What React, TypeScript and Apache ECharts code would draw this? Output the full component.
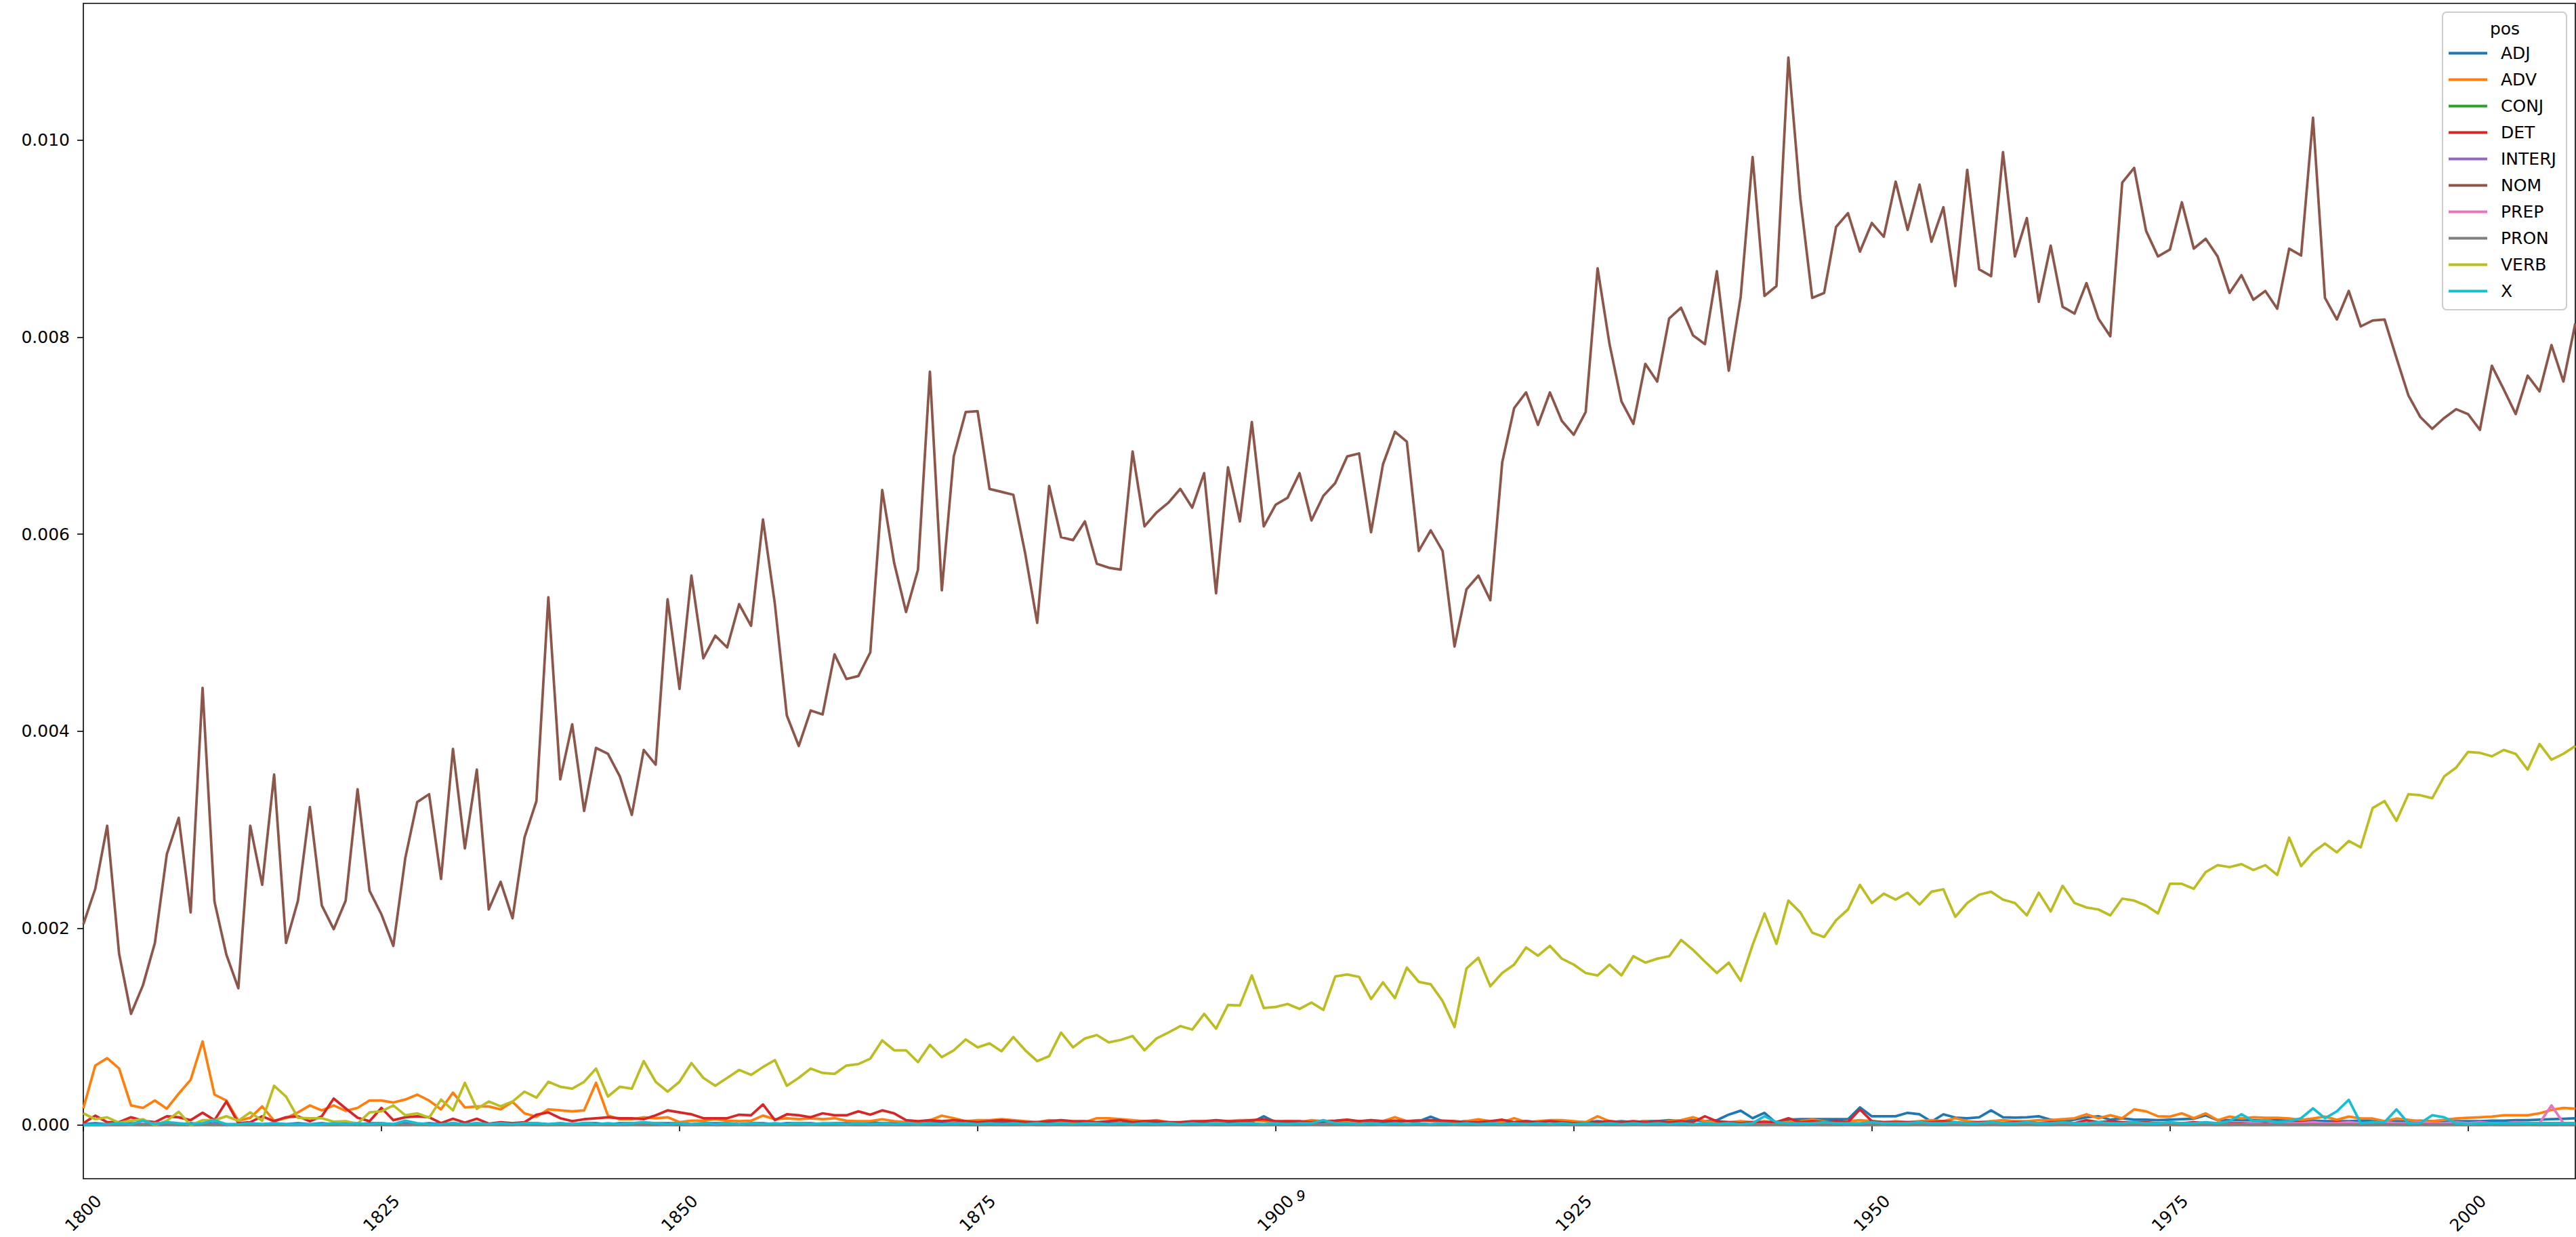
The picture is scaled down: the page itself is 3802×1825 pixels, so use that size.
import React, { useEffect, useRef } from "react";
import * as echarts from "echarts";

const FIRST_YEAR = 1800;
const N_YEARS = 210;
const YEARS = Array.from({ length: N_YEARS }, (_, i) => FIRST_YEAR + i);

const X_TICKS = [1800, 1825, 1850, 1875, 1900, 1925, 1950, 1975, 2000];
const Y_TICKS = [0, 0.002, 0.004, 0.006, 0.008, 0.01];

const POS_NAMES = ["ADJ", "ADV", "CONJ", "DET", "INTERJ", "NOM", "PREP", "PRON", "VERB", "X"];
const POS_COLORS = ["#1f77b4", "#ff7f0e", "#2ca02c", "#d62728", "#9467bd", "#8c564b", "#e377c2", "#7f7f7f", "#bcbd22", "#17becf"];

const NOM = [
  0.00204, 0.0024, 0.00304, 0.00174, 0.00113, 0.00142, 0.00185, 0.00275, 0.00312, 0.00216,
  0.00444, 0.00227, 0.00173, 0.00139, 0.00304, 0.00244, 0.00356, 0.00185, 0.00228, 0.00323,
  0.00223, 0.00199, 0.00228, 0.00341, 0.00238, 0.00214, 0.00182, 0.00271, 0.00328, 0.00336,
  0.0025, 0.00382, 0.00281, 0.00361, 0.00219, 0.00247, 0.0021, 0.00292, 0.00329, 0.00536,
  0.00351, 0.00407, 0.00319, 0.00383, 0.00377, 0.00354, 0.00315, 0.00381, 0.00366, 0.00534,
  0.00443, 0.00558, 0.00474, 0.00497, 0.00485, 0.00529, 0.00507, 0.00615, 0.00529, 0.00416,
  0.00385, 0.00421, 0.00417, 0.00478, 0.00453, 0.00456, 0.0048, 0.00645, 0.00571, 0.00521,
  0.00564, 0.00765, 0.00543, 0.00679, 0.00724, 0.00725, 0.00646, 0.00643, 0.0064, 0.0058,
  0.0051, 0.00649, 0.00597, 0.00594, 0.00613, 0.0057, 0.00566, 0.00564, 0.00684, 0.00608,
  0.00622, 0.00632, 0.00646, 0.00627, 0.00662, 0.0054, 0.00668, 0.00613, 0.00714, 0.00608,
  0.0063, 0.00637, 0.00662, 0.00614, 0.00639, 0.00652, 0.00679, 0.00682, 0.00602, 0.00671,
  0.00704, 0.00694, 0.00583, 0.00604, 0.00583, 0.00486, 0.00544, 0.00558, 0.00533, 0.00673,
  0.00728, 0.00744, 0.00711, 0.00744, 0.00715, 0.00701, 0.00724, 0.0087, 0.00793, 0.00735,
  0.00712, 0.00773, 0.00755, 0.00819, 0.0083, 0.00802, 0.00793, 0.00867, 0.00766, 0.00841,
  0.00983, 0.00842, 0.00852, 0.01084, 0.00941, 0.0084, 0.00845, 0.00912, 0.00926, 0.00887,
  0.00916, 0.00902, 0.00958, 0.00909, 0.00955, 0.00897, 0.00932, 0.00852, 0.0097, 0.00869,
  0.00862, 0.00988, 0.00882, 0.00921, 0.00836, 0.00893, 0.00831, 0.00824, 0.00855, 0.00819,
  0.00801, 0.00957, 0.00972, 0.00908, 0.00882, 0.00889, 0.00937, 0.0089, 0.009, 0.00882,
  0.00845, 0.00863, 0.00838, 0.00847, 0.00829, 0.0089, 0.00883, 0.01023, 0.0084, 0.00818,
  0.00847, 0.00811, 0.00817, 0.00818, 0.00779, 0.00741, 0.00719, 0.00707, 0.00718, 0.00727,
  0.00722, 0.00706, 0.00771, 0.00747, 0.00722, 0.00761, 0.00745, 0.00792, 0.00755, 0.00814,
];

const VERB = [
  0.00012, 0.00006, 0.00008, 0.000024, 0.000045, 0.00006, 0.0, 0.000045, 0.000136, 0.0,
  0.00005, 0.00005, 0.00009, 0.000045, 0.00013, 0.000045, 0.0004, 0.00029, 0.000075, 0.00007,
  0.00007, 0.000035, 0.00004, 0.000015, 0.00013, 0.00014, 0.0002, 0.0001, 0.00012, 0.000075,
  0.00026, 0.00015, 0.00043, 0.000165, 0.00024, 0.00019, 0.00024, 0.00034, 0.00028, 0.00044,
  0.00039, 0.00037, 0.00044, 0.000575, 0.00029, 0.00039, 0.00037, 0.00065, 0.00044, 0.00034,
  0.00044, 0.00063, 0.00048, 0.0004, 0.00048, 0.00056, 0.00051, 0.00059, 0.00066, 0.0004,
  0.00048, 0.000575, 0.00053, 0.00052, 0.000605, 0.00062, 0.000675, 0.00086, 0.00076, 0.00076,
  0.00064, 0.000815, 0.00069, 0.00076, 0.00087, 0.00079, 0.00083, 0.00075, 0.000895, 0.00076,
  0.00065, 0.0007, 0.00094, 0.00079, 0.00088, 0.000915, 0.00084, 0.000865, 0.000905, 0.00076,
  0.00088, 0.00094, 0.001006, 0.00097, 0.00113, 0.00098, 0.00122, 0.001215, 0.00152, 0.00119,
  0.0012, 0.00123, 0.00118, 0.001245, 0.00117, 0.00151, 0.00153, 0.001505, 0.00128, 0.00145,
  0.00129, 0.0016, 0.001455, 0.00143, 0.00126, 0.000996, 0.00159, 0.0017, 0.00141, 0.001545,
  0.00163, 0.001805, 0.00172, 0.00182, 0.00169, 0.00163, 0.001545, 0.00152, 0.00163, 0.00152,
  0.001715, 0.00165, 0.00169, 0.001715, 0.00188, 0.00178, 0.00166, 0.001545, 0.00165, 0.001465,
  0.00183, 0.00215, 0.00184, 0.00228, 0.00216, 0.001955, 0.00191, 0.00208, 0.00219, 0.00244,
  0.002255, 0.00235, 0.00229, 0.00236, 0.00224, 0.00237, 0.002395, 0.002115, 0.002255, 0.00234,
  0.00237, 0.00229, 0.002255, 0.00213, 0.00236, 0.00217, 0.00243, 0.002255, 0.00221, 0.00219,
  0.00213, 0.0023, 0.00228, 0.00223, 0.00215, 0.00245, 0.00245, 0.0024, 0.00257, 0.00264,
  0.00262, 0.00265, 0.00259, 0.00264, 0.00254, 0.00292, 0.00263, 0.00277, 0.00286, 0.00277,
  0.002885, 0.00282, 0.00322, 0.00329, 0.00309, 0.00336, 0.00335, 0.00332, 0.00354, 0.00363,
  0.00379, 0.00378, 0.003745, 0.00381, 0.00377, 0.00361, 0.00387, 0.00371, 0.00377, 0.00385,
];

const ADV = [
  0.00017, 0.000605, 0.00068, 0.000575, 0.0002, 0.000175, 0.00025, 0.000167, 0.00032, 0.00046,
  0.00085, 0.00031, 0.00025, 0.000045, 0.000075, 0.00019, 0.000045, 0.00007, 0.00013, 0.0002,
  0.00015, 0.0002, 0.000145, 0.000175, 0.00025, 0.00025, 0.00023, 0.00026, 0.00031, 0.00025,
  0.00016, 0.00033, 0.00018, 0.00019, 0.00019, 0.00016, 0.000236, 0.00012, 0.000084, 0.00016,
  0.00015, 0.00014, 0.00015, 0.00043, 0.000097, 0.00006, 0.00006, 0.00008, 0.00007, 0.00008,
  0.00003, 0.000045, 0.000045, 0.00006, 0.000045, 0.00004, 0.000045, 0.000097, 0.00006, 0.00007,
  0.00006, 0.00007, 0.00006, 0.00007, 0.000045, 0.00004, 0.00004, 0.00006, 0.00004, 0.00003,
  0.00003, 0.00005, 0.000096, 0.00007, 0.00004, 0.00005, 0.00005, 0.00006, 0.00005, 0.00004,
  0.00003, 0.00005, 0.00004, 0.00003, 0.00003, 0.00007, 0.00007, 0.00006, 0.00005, 0.00004,
  0.00005, 0.00003, 0.00002, 0.00003, 0.00004, 0.00003, 0.00004, 0.00005, 0.00005, 0.00004,
  0.00003, 0.00004, 0.00003, 0.00005, 0.00004, 0.00003, 0.00004, 0.00003, 0.00005, 0.00004,
  0.00008, 0.00004, 0.00005, 0.00004, 0.00003, 0.00003, 0.00004, 0.00006, 0.00004, 0.00003,
  0.00007, 0.00003, 0.00004, 0.00005, 0.00005, 0.00004, 0.00003, 0.00009, 0.00004, 0.00003,
  0.00003, 0.00004, 0.00003, 0.00004, 0.00005, 0.00008, 0.00004, 0.00003, 0.00003, 0.00004,
  0.00003, 0.00004, 0.00003, 0.00003, 0.00004, 0.000055, 0.00004, 0.00003, 0.00004, 0.00005,
  0.00004, 0.00003, 0.00004, 0.00003, 0.00004, 0.00005, 0.00004, 0.00007, 0.00004, 0.00003,
  0.00004, 0.00005, 0.00004, 0.00004, 0.00005, 0.00005, 0.00006, 0.00007, 0.00011, 0.00007,
  0.0001, 0.00007, 0.00016, 0.00014, 0.00009, 0.000087, 0.00012, 0.00007, 0.00012, 0.00005,
  0.000087, 0.000067, 0.00008, 0.000074, 0.000074, 0.000067, 0.000054, 0.000067, 0.000087, 0.000054,
  0.000087, 0.000067, 0.000067, 0.00004, 0.000067, 0.000054, 0.00004, 0.00004, 0.000054, 0.000067,
  0.000074, 0.00008, 0.000087, 0.0001, 0.0001, 0.0001, 0.00012, 0.000155, 0.000175, 0.000168,
];

const DET = [
  0.00002, 0.000096, 0.00003, 0.00003, 0.00008, 0.000045, 0.00003, 0.00009, 0.00008, 0.00005,
  0.000126, 0.00005, 0.00024, 0.00002, 0.00003, 0.00009, 0.00004, 0.00008, 0.00009, 0.00004,
  0.00009, 0.00027, 0.00017, 0.000075, 0.00004, 0.000175, 0.00005, 0.00008, 0.00009, 0.00008,
  0.00002, 0.000065, 0.000025, 0.000065, 0.000015, 0.00003, 0.00002, 0.00003, 0.000106, 0.00013,
  0.00007, 0.00004, 0.00006, 0.00007, 0.00008, 0.00007, 0.00007, 0.00006, 0.0001, 0.00015,
  0.00013, 0.00011, 0.00007, 0.00007, 0.00007, 0.000106, 0.0001, 0.00021, 0.00005, 0.00011,
  0.0001, 0.00008, 0.00012, 0.0001, 0.0001, 0.00014, 0.000106, 0.00015, 0.00012, 0.00005,
  0.00004, 0.00005, 0.00004, 0.00005, 0.00004, 0.00003, 0.00004, 0.00005, 0.00004, 0.00003,
  0.00003, 0.00004, 0.00005, 0.00004, 0.00004, 0.00003, 0.00004, 0.00005, 0.00003, 0.00004,
  0.00004, 0.00003, 0.00003, 0.00004, 0.00004, 0.00005, 0.00004, 0.00004, 0.00005, 0.00006,
  0.00004, 0.00004, 0.00004, 0.00003, 0.00004, 0.000045, 0.000055, 0.00004, 0.00005, 0.00004,
  0.000045, 0.00004, 0.000045, 0.00005, 0.000045, 0.00004, 0.00003, 0.00003, 0.00004, 0.000055,
  0.00003, 0.00004, 0.00003, 0.00004, 0.00003, 0.00002, 0.00002, 0.00003, 0.00004, 0.00003,
  0.00004, 0.00003, 0.00004, 0.00003, 0.00004, 0.00003, 0.00009, 0.00004, 0.00003, 0.00002,
  0.00003, 0.00003, 0.00003, 0.00007, 0.00003, 0.00004, 0.00003, 0.00004, 0.00003, 0.00016,
  0.00004, 0.00003, 0.00003, 0.00003, 0.00003, 0.00003, 0.00004, 0.00003, 0.00002, 0.00003,
  0.00003, 0.00002, 0.00003, 0.00003, 0.00002, 0.00003, 0.00003, 0.00002, 0.00005, 0.00003,
  0.00004, 0.00003, 0.00003, 0.00003, 0.00002, 0.00002, 0.00002, 0.00003, 0.00002, 0.00002,
  0.00002, 0.00002, 0.00002, 0.00002, 0.00002, 0.00002, 0.00003, 0.00002, 0.00002, 0.00003,
  0.00002, 0.00002, 0.00002, 0.00002, 0.00002, 0.00002, 0.00002, 0.00002, 0.00002, 0.00002,
  0.00002, 0.00002, 0.00002, 0.00002, 0.00002, 0.00002, 0.00002, 0.00002, 0.00002, 0.00002,
];

const ADJ = [
  0.00001, 0.00002, 0.00001, 0.00001, 0.00002, 0.00001, 0.00002, 0.00002, 0.00001, 0.00002,
  0.00001, 0.00002, 0.00001, 0.00001, 0.00002, 0.00001, 0.00002, 0.00001, 0.00002, 0.00001,
  0.00002, 0.00001, 0.00002, 0.00001, 0.00002, 0.00002, 0.00001, 0.00002, 0.00001, 0.00002,
  0.00001, 0.00002, 0.00001, 0.00002, 0.00001, 0.00002, 0.00001, 0.00002, 0.00002, 0.00001,
  0.00002, 0.00001, 0.00002, 0.00002, 0.00001, 0.00002, 0.00002, 0.00001, 0.00002, 0.00002,
  0.00002, 0.00001, 0.00002, 0.00002, 0.00002, 0.00001, 0.00002, 0.00002, 0.00001, 0.00002,
  0.00002, 0.00002, 0.00001, 0.00002, 0.00002, 0.00002, 0.00003, 0.00002, 0.00002, 0.00002,
  0.00002, 0.00003, 0.00002, 0.00002, 0.00003, 0.00002, 0.00002, 0.00003, 0.00002, 0.00002,
  0.00003, 0.00002, 0.00002, 0.00003, 0.00002, 0.00003, 0.00002, 0.00002, 0.00003, 0.00002,
  0.00002, 0.00003, 0.00002, 0.00003, 0.00002, 0.00003, 0.00003, 0.00002, 0.00003, 0.00009,
  0.00003, 0.00003, 0.00002, 0.00003, 0.00003, 0.00002, 0.00003, 0.00004, 0.00004, 0.00003,
  0.00004, 0.00004, 0.00004, 0.000085, 0.00004, 0.00003, 0.00004, 0.00003, 0.00004, 0.00003,
  0.00003, 0.00004, 0.00003, 0.00004, 0.00003, 0.00003, 0.00003, 0.00004, 0.00003, 0.00004,
  0.00003, 0.00004, 0.00004, 0.00005, 0.00004, 0.00005, 0.00004, 0.00005, 0.000107, 0.000147,
  0.00007, 0.000125, 0.00002, 0.000055, 0.00006, 0.00006, 0.00006, 0.00006, 0.00006, 0.00018,
  0.00009, 0.00009, 0.00009, 0.000125, 0.00011, 0.000035, 0.00011, 0.000077, 0.00007, 0.00008,
  0.00015, 0.00008, 0.000077, 0.00008, 0.00009, 0.000055, 0.000035, 0.000055, 0.00008, 0.00009,
  0.000055, 0.00007, 0.000055, 0.000055, 0.00005, 0.000055, 0.00006, 0.000065, 0.0001, 0.00005,
  0.00005, 0.00005, 0.00005, 0.000045, 0.00005, 0.000045, 0.00004, 0.000045, 0.00004, 0.00004,
  0.00004, 0.000045, 0.00004, 0.00004, 0.00004, 0.00004, 0.000045, 0.00004, 0.00004, 0.00004,
  0.00004, 0.00004, 0.000045, 0.000045, 0.00005, 0.00005, 0.000055, 0.00006, 0.000065, 0.00007,
];

const X = [
  0.0, 0.0, 0.00001, 0.00002, 0.00001, 0.000045, 0.00001, 0.00003, 0.00002, 0.00001,
  0.00002, 0.00005, 0.00001, 0.00001, 0.00002, 0.00001, 0.00002, 0.00001, 0.00001, 0.00001,
  0.00001, 0.00002, 0.00001, 0.00002, 0.00001, 0.00002, 0.00001, 0.000045, 0.00002, 0.00001,
  0.00001, 0.00002, 0.00001, 0.00002, 0.00001, 0.00002, 0.00001, 0.00002, 0.00002, 0.00001,
  0.00002, 0.00001, 0.00002, 0.00001, 0.00002, 0.00001, 0.00002, 0.00003, 0.00002, 0.00001,
  0.00002, 0.00001, 0.00002, 0.00001, 0.00002, 0.00001, 0.00002, 0.00001, 0.00002, 0.00001,
  0.00002, 0.00001, 0.00002, 0.00002, 0.00001, 0.00002, 0.00001, 0.00002, 0.00001, 0.00002,
  0.00001, 0.00002, 0.00001, 0.00002, 0.00002, 0.00001, 0.00002, 0.00001, 0.00002, 0.00001,
  0.00002, 0.00001, 0.00002, 0.00001, 0.00002, 0.00002, 0.00001, 0.00002, 0.00001, 0.00002,
  0.00001, 0.00002, 0.00001, 0.00002, 0.00001, 0.00002, 0.00001, 0.00002, 0.00002, 0.00001,
  0.00002, 0.00001, 0.00002, 0.00002, 0.00005, 0.00002, 0.00002, 0.00001, 0.00002, 0.00001,
  0.00002, 0.00001, 0.00002, 0.00001, 0.00002, 0.00001, 0.00002, 0.00001, 0.00002, 0.00001,
  0.00002, 0.00001, 0.00002, 0.00001, 0.00002, 0.00001, 0.00002, 0.00001, 0.00002, 0.00001,
  0.00002, 0.00001, 0.00002, 0.00001, 0.00002, 0.00001, 0.00002, 0.00001, 0.00002, 0.00001,
  0.00002, 0.00009, 0.00003, 0.00002, 0.00002, 0.00002, 0.00003, 0.00002, 0.00002, 0.00002,
  0.00003, 0.00002, 0.00002, 0.00002, 0.00003, 0.00002, 0.00002, 0.00003, 0.00002, 0.00002,
  0.00003, 0.00002, 0.00002, 0.00003, 0.00002, 0.00002, 0.00003, 0.00002, 0.00002, 0.00003,
  0.00002, 0.00002, 0.00003, 0.00002, 0.00002, 0.00003, 0.00002, 0.00002, 0.00003, 0.00002,
  0.00004, 0.00011, 0.00004, 0.00005, 0.00003, 0.00004, 0.00007, 0.00017, 0.00007, 0.00014,
  0.000257, 0.00002, 0.00003, 0.00003, 0.00016, 0.00002, 0.00002, 0.0001, 0.00008, 0.00002,
  0.00001, 0.00002, 0.00002, 0.00002, 0.00002, 0.00002, 0.00002, 0.00002, 0.00002, 0.00002,
];

const PREP = [
  0.000005, 0.000005, 0.00001, 0.000005, 0.00001, 0.00001, 0.00002, 0.00002, 0.00001, 0.000005,
  0.000005, 0.00001, 0.000005, 0.000005, 0.00001, 0.000005, 0.000005, 0.00001, 0.000005, 0.000005,
  0.000005, 0.00001, 0.000005, 0.000005, 0.00001, 0.000005, 0.000005, 0.00001, 0.000005, 0.000005,
  0.000005, 0.00001, 0.000005, 0.000005, 0.00001, 0.000005, 0.000005, 0.00001, 0.000005, 0.000005,
  0.000005, 0.00001, 0.000005, 0.000005, 0.00001, 0.000005, 0.000005, 0.00001, 0.000005, 0.000005,
  0.000005, 0.00001, 0.000005, 0.000005, 0.00001, 0.000005, 0.000005, 0.00001, 0.000005, 0.000005,
  0.000005, 0.00001, 0.000005, 0.000005, 0.00001, 0.000005, 0.000005, 0.00001, 0.000005, 0.000005,
  0.000005, 0.00001, 0.000005, 0.000005, 0.00001, 0.000005, 0.000005, 0.00001, 0.000005, 0.000005,
  0.000005, 0.00001, 0.000005, 0.000005, 0.00001, 0.000005, 0.000005, 0.00001, 0.000005, 0.000005,
  0.000005, 0.00001, 0.000005, 0.000005, 0.00001, 0.000005, 0.000005, 0.00001, 0.000005, 0.000005,
  0.000005, 0.00001, 0.000005, 0.000005, 0.00001, 0.000005, 0.000005, 0.00001, 0.000005, 0.000005,
  0.000005, 0.00001, 0.000005, 0.000005, 0.00001, 0.000005, 0.000005, 0.00001, 0.000005, 0.000005,
  0.000005, 0.00001, 0.000005, 0.000005, 0.00001, 0.000005, 0.000005, 0.00001, 0.000005, 0.000005,
  0.000005, 0.00001, 0.000005, 0.000005, 0.00001, 0.000005, 0.000005, 0.00001, 0.000005, 0.000005,
  0.000005, 0.00001, 0.000005, 0.000005, 0.00001, 0.000005, 0.000005, 0.00001, 0.000005, 0.000005,
  0.00001, 0.00001, 0.000005, 0.00001, 0.00001, 0.000005, 0.00001, 0.00001, 0.000005, 0.00001,
  0.00001, 0.00001, 0.00001, 0.00001, 0.00001, 0.00001, 0.00001, 0.00001, 0.00001, 0.00001,
  0.00001, 0.00001, 0.00001, 0.00001, 0.00001, 0.00001, 0.00001, 0.00001, 0.00001, 0.00001,
  0.00001, 0.00001, 0.00002, 0.00001, 0.00002, 0.00002, 0.00002, 0.00003, 0.00002, 0.00002,
  0.00003, 0.00002, 0.00002, 0.00003, 0.00002, 0.00002, 0.00003, 0.00002, 0.00002, 0.00003,
  0.00002, 0.00003, 0.00002, 0.00002, 0.00003, 0.00002, 0.00002, 0.0002, 0.00002, 0.00002,
];

const PRON = [
  0.000005, 0.000008, 0.000005, 0.000006, 0.000005, 0.000008, 0.000005, 0.000006, 0.000007, 0.000005,
  0.000006, 0.000005, 0.000007, 0.000005, 0.000006, 0.000005, 0.000007, 0.000005, 0.000006, 0.000005,
  0.000005, 0.000006, 0.000005, 0.000007, 0.000005, 0.000006, 0.000005, 0.000007, 0.000005, 0.000006,
  0.000005, 0.000006, 0.000005, 0.000007, 0.000005, 0.000006, 0.000005, 0.000007, 0.000005, 0.000006,
  0.000005, 0.000006, 0.000005, 0.000007, 0.000005, 0.000006, 0.000005, 0.000007, 0.000005, 0.000006,
  0.000005, 0.000006, 0.000005, 0.000007, 0.000005, 0.000006, 0.000005, 0.000007, 0.000005, 0.000006,
  0.000005, 0.000006, 0.000005, 0.000007, 0.000005, 0.000006, 0.000005, 0.000007, 0.000005, 0.000006,
  0.000005, 0.000006, 0.000005, 0.000007, 0.000005, 0.000006, 0.000005, 0.000007, 0.000005, 0.000006,
  0.000005, 0.000006, 0.000005, 0.000007, 0.000005, 0.000006, 0.000005, 0.000007, 0.000005, 0.000006,
  0.000005, 0.000006, 0.000005, 0.000007, 0.000005, 0.000006, 0.000005, 0.000007, 0.000005, 0.000006,
  0.000005, 0.000006, 0.000005, 0.000007, 0.000005, 0.000006, 0.000005, 0.000007, 0.000005, 0.000006,
  0.000005, 0.000006, 0.000005, 0.000007, 0.000005, 0.000006, 0.000005, 0.000007, 0.000005, 0.000006,
  0.000005, 0.000006, 0.000005, 0.000007, 0.000005, 0.000006, 0.000005, 0.000007, 0.000005, 0.000006,
  0.000005, 0.000006, 0.000005, 0.000007, 0.000005, 0.000006, 0.000005, 0.000007, 0.000005, 0.000006,
  0.000005, 0.000006, 0.000005, 0.000007, 0.000005, 0.000006, 0.000005, 0.000007, 0.000005, 0.000006,
  0.000005, 0.000006, 0.000005, 0.000007, 0.000005, 0.000006, 0.000005, 0.000007, 0.000005, 0.000006,
  0.000005, 0.000006, 0.000005, 0.000007, 0.000005, 0.000006, 0.000005, 0.000007, 0.000005, 0.000006,
  0.000005, 0.000006, 0.000005, 0.000007, 0.000005, 0.000006, 0.000005, 0.000007, 0.000005, 0.000006,
  0.000005, 0.000006, 0.000005, 0.000007, 0.000005, 0.000006, 0.000005, 0.000007, 0.000005, 0.000006,
  0.000005, 0.000006, 0.000005, 0.000007, 0.000005, 0.000006, 0.000005, 0.000007, 0.000005, 0.000006,
  0.000005, 0.000006, 0.000005, 0.000007, 0.000005, 0.000006, 0.000005, 0.000007, 0.000005, 0.000006,
];

const CONJ = [
  0.000002, 0.000003, 0.000002, 0.000002, 0.000003, 0.000002, 0.000002, 0.000003, 0.000002, 0.000002,
  0.000003, 0.000002, 0.000002, 0.000003, 0.000002, 0.000002, 0.000003, 0.000002, 0.000002, 0.000003,
  0.000002, 0.000002, 0.000003, 0.000002, 0.000002, 0.000003, 0.000002, 0.000002, 0.000003, 0.000002,
  0.000002, 0.000003, 0.000002, 0.000002, 0.000003, 0.000002, 0.000002, 0.000003, 0.000002, 0.000002,
  0.000003, 0.000002, 0.000002, 0.000003, 0.000002, 0.000002, 0.000003, 0.000002, 0.000002, 0.000003,
  0.000002, 0.000002, 0.000003, 0.000002, 0.000002, 0.000003, 0.000002, 0.000002, 0.000003, 0.000002,
  0.000002, 0.000003, 0.000002, 0.000002, 0.000003, 0.000002, 0.000002, 0.000003, 0.000002, 0.000002,
  0.000003, 0.000002, 0.000002, 0.000003, 0.000002, 0.000002, 0.000003, 0.000002, 0.000002, 0.000003,
  0.000002, 0.000002, 0.000003, 0.000002, 0.000002, 0.000003, 0.000002, 0.000002, 0.000003, 0.000002,
  0.000002, 0.000003, 0.000002, 0.000002, 0.000003, 0.000002, 0.000002, 0.000003, 0.000002, 0.000002,
  0.000003, 0.000002, 0.000002, 0.000003, 0.000002, 0.000002, 0.000003, 0.000002, 0.000002, 0.000003,
  0.000002, 0.000002, 0.000003, 0.000002, 0.000002, 0.000003, 0.000002, 0.000002, 0.000003, 0.000002,
  0.000002, 0.000003, 0.000002, 0.000002, 0.000003, 0.000002, 0.000002, 0.000003, 0.000002, 0.000002,
  0.000003, 0.000002, 0.000002, 0.000003, 0.000002, 0.000002, 0.000003, 0.000002, 0.000002, 0.000003,
  0.000002, 0.000002, 0.000003, 0.000002, 0.000002, 0.000003, 0.000002, 0.000002, 0.000003, 0.000002,
  0.000002, 0.000003, 0.000002, 0.000002, 0.000003, 0.000002, 0.000002, 0.000003, 0.000002, 0.000002,
  0.000003, 0.000002, 0.000002, 0.000003, 0.000002, 0.000002, 0.000003, 0.000002, 0.000002, 0.000003,
  0.000002, 0.000002, 0.000003, 0.000002, 0.000002, 0.000003, 0.000002, 0.000002, 0.000003, 0.000002,
  0.000002, 0.000003, 0.000002, 0.000002, 0.000003, 0.000002, 0.000002, 0.000003, 0.000002, 0.000002,
  0.000003, 0.000002, 0.000002, 0.000003, 0.000002, 0.000002, 0.000003, 0.000002, 0.000002, 0.000003,
  0.000002, 0.000002, 0.000003, 0.000002, 0.000002, 0.000003, 0.000002, 0.000002, 0.000003, 0.000002,
];

const INTERJ = [
  0.000003, 0.000004, 0.000003, 0.000003, 0.000004, 0.000003, 0.000003, 0.000004, 0.000003, 0.000003,
  0.000004, 0.000003, 0.000003, 0.000004, 0.000003, 0.000003, 0.000004, 0.000003, 0.000003, 0.000004,
  0.000003, 0.000003, 0.000004, 0.000003, 0.000003, 0.000004, 0.000003, 0.000003, 0.000004, 0.000003,
  0.000003, 0.000004, 0.000003, 0.000003, 0.000004, 0.000003, 0.000003, 0.000004, 0.000003, 0.000003,
  0.000004, 0.000003, 0.000003, 0.000004, 0.000003, 0.000003, 0.000004, 0.000003, 0.000003, 0.000004,
  0.000003, 0.000003, 0.000004, 0.000003, 0.000003, 0.000004, 0.000003, 0.000003, 0.000004, 0.000003,
  0.000003, 0.000004, 0.000003, 0.000003, 0.000004, 0.000003, 0.000003, 0.000004, 0.000003, 0.000003,
  0.000004, 0.000003, 0.000003, 0.000004, 0.000003, 0.000003, 0.000004, 0.000003, 0.000003, 0.000004,
  0.000003, 0.000003, 0.000004, 0.000003, 0.000003, 0.000004, 0.000003, 0.000003, 0.000004, 0.000003,
  0.000003, 0.000004, 0.000003, 0.000003, 0.000004, 0.000003, 0.000003, 0.000004, 0.000003, 0.000003,
  0.000004, 0.000003, 0.000003, 0.000004, 0.000003, 0.000003, 0.000004, 0.000003, 0.000003, 0.000004,
  0.000003, 0.000003, 0.000004, 0.000003, 0.000003, 0.000004, 0.000003, 0.000003, 0.000004, 0.000003,
  0.000003, 0.000004, 0.000003, 0.000003, 0.000004, 0.000003, 0.000003, 0.000004, 0.000003, 0.000003,
  0.000004, 0.000003, 0.000003, 0.000004, 0.000003, 0.000003, 0.000004, 0.000003, 0.000003, 0.000004,
  0.000003, 0.000003, 0.000004, 0.000003, 0.000003, 0.000004, 0.000003, 0.000003, 0.000004, 0.000003,
  0.000003, 0.000004, 0.000003, 0.000003, 0.000004, 0.000003, 0.000003, 0.000004, 0.000003, 0.000003,
  0.000004, 0.000003, 0.000003, 0.000004, 0.000003, 0.000003, 0.000004, 0.000003, 0.000003, 0.000004,
  0.000003, 0.000003, 0.000004, 0.000003, 0.000003, 0.000004, 0.000003, 0.000003, 0.000004, 0.000003,
  0.000003, 0.000004, 0.000003, 0.000003, 0.000004, 0.000003, 0.000003, 0.000004, 0.000003, 0.000003,
  0.000004, 0.000003, 0.000003, 0.000004, 0.000003, 0.000003, 0.000004, 0.000003, 0.000003, 0.000004,
  0.000003, 0.000003, 0.000004, 0.000003, 0.000003, 0.000004, 0.000003, 0.000003, 0.000004, 0.000003,
];

const POS_VALUES = [ADJ, ADV, CONJ, DET, INTERJ, NOM, PREP, PRON, VERB, X];

const FONT = "DejaVu Sans";

export default function App() {
  const ref = useRef<HTMLDivElement>(null);

  useEffect(() => {
    if (!ref.current) return;
    const chart = echarts.init(ref.current, null, { renderer: "svg" });

    const series = POS_NAMES.map((name, i) => ({
      type: "line",
      name,
      data: YEARS.map((yr, j) => [yr, POS_VALUES[i][j]]),
      symbol: "none",
      showSymbol: false,
      color: POS_COLORS[i],
      itemStyle: { color: POS_COLORS[i] },
      lineStyle: { width: 3.75, color: POS_COLORS[i], join: "round", cap: "butt" },
      emphasis: { disabled: true },
    }));

    chart.setOption({
      animation: false,
      backgroundColor: "#ffffff",
      grid: {
        left: 123,
        right: 1,
        top: 5,
        bottom: 86,
        show: true,
        borderColor: "#000000",
        borderWidth: 1.6,
        backgroundColor: "transparent",
      },
      xAxis: {
        type: "value",
        min: 1800,
        max: 2009,
        splitLine: { show: false },
        axisLine: { show: false },
        axisTick: {
          show: true,
          length: 9,
          lineStyle: { color: "#000", width: 1.6 },
          customValues: X_TICKS,
        },
        axisLabel: {
          customValues: X_TICKS,
          rotate: 45,
          align: "center",
          verticalAlign: "middle",
          margin: 51,
          fontFamily: FONT,
          fontSize: 25,
          color: "#000",
          formatter: (v: number) => String(v),
        },
      },
      yAxis: {
        type: "value",
        min: -0.000544,
        max: 0.01139,
        splitLine: { show: false },
        axisLine: { show: false },
        axisTick: {
          show: true,
          length: 9,
          lineStyle: { color: "#000", width: 1.6 },
          customValues: Y_TICKS,
        },
        axisLabel: {
          customValues: Y_TICKS,
          margin: 20,
          fontFamily: FONT,
          fontSize: 25,
          color: "#000",
          formatter: (v: number) => v.toFixed(3),
        },
      },
      legend: {
        orient: "vertical",
        left: 3614,
        top: 66,
        padding: 0,
        itemWidth: 57,
        itemHeight: 4,
        itemGap: 14,
        icon: "rect",
        selectedMode: false,
        data: POS_NAMES,
        textStyle: {
          fontFamily: FONT,
          fontSize: 25,
          lineHeight: 25,
          color: "#000",
          padding: [0, 0, 0, 15],
        },
      },
      graphic: [
        {
          type: "rect",
          z: 0,
          shape: { x: 3605, y: 18, width: 183, height: 439, r: 6 },
          style: { fill: "rgba(255,255,255,0.8)", stroke: "#cccccc", lineWidth: 2 },
        },
        {
          type: "text",
          z: 5,
          x: 3697,
          y: 42,
          style: {
            text: "pos",
            fontFamily: FONT,
            fontSize: 25,
            fill: "#000",
            textAlign: "center",
            textVerticalAlign: "middle",
          },
        },
        {
          type: "text",
          z: 5,
          x: 1920,
          y: 1765,
          style: {
            text: "9",
            fontFamily: FONT,
            fontSize: 21,
            fill: "#000",
            textAlign: "center",
            textVerticalAlign: "middle",
          },
        },
      ],
      series,
    });

    return () => chart.dispose();
  }, []);

  return (
    <div
      ref={ref}
      style={{ position: "fixed", left: 0, top: 0, width: 3802, height: 1825, background: "#fff" }}
    />
  );
}
